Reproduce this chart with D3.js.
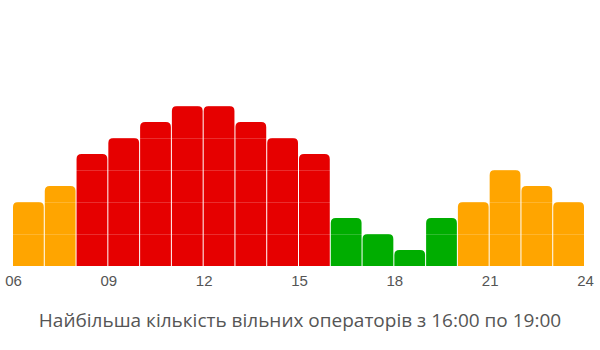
<!DOCTYPE html>
<html>
<head>
<meta charset="utf-8">
<script src="https://cdn.jsdelivr.net/npm/d3@7"></script>
<style>
  body { margin: 0; background: #fff; }
  svg { display: block; font-family: "Open Sans", sans-serif; }
</style>
</head>
<body>
<svg id="chart" width="600" height="350"></svg>
<script>
// hours of the day and free operators per hour
const hours = [6, 7, 8, 9, 10, 11, 12, 13, 14, 15, 16, 17, 18, 19, 20, 21, 22, 23]
const operators = [4, 5, 7, 8, 9, 10, 10, 9, 8, 7, 3, 2, 1, 3, 4, 6, 5, 4]
const levels = ['mid', 'mid', 'high', 'high', 'high', 'high', 'high', 'high', 'high', 'high',
  'low', 'low', 'low', 'low', 'mid', 'mid', 'mid', 'mid']
const tickHours = [6, 9, 12, 15, 18, 21, 24]
const title = 'Найбільша кількість вільних операторів з 16:00 по 19:00'

const svg = d3.select('#chart')
const base = 266

const x = d3.scaleLinear().domain([6, 24]).range([13, 585])
const y = d3.scaleLinear().domain([0, 16]).range([base, 10])
const color = d3.scaleOrdinal()
  .domain(['high', 'mid', 'low'])
  .range(['#e60000', '#ffa500', '#00ad00'])

const data = hours.map((h, i) => ({ hour: h, value: operators[i], level: levels[i] }))

// bar with rounded top corners
function barPath (d) {
  const x0 = x(d.hour)
  const w = x(d.hour + 1) - x0 - 1
  const y0 = y(d.value)
  const r = Math.min(5, w / 2)
  return 'M' + x0 + ',' + base +
    'V' + (y0 + r) +
    'Q' + x0 + ',' + y0 + ' ' + (x0 + r) + ',' + y0 +
    'H' + (x0 + w - r) +
    'Q' + (x0 + w) + ',' + y0 + ' ' + (x0 + w) + ',' + (y0 + r) +
    'V' + base + 'Z'
}

svg.append('g')
  .selectAll('path')
  .data(data)
  .join('path')
  .attr('d', barPath)
  .attr('fill', d => color(d.level))

// faint grid lines across the bars
svg.append('g')
  .selectAll('line')
  .data(d3.range(2, 16, 2))
  .join('line')
  .attr('x1', x(6))
  .attr('x2', x(24))
  .attr('y1', d => Math.round(y(d)) + 0.5)
  .attr('y2', d => Math.round(y(d)) + 0.5)
  .attr('stroke', '#fff')
  .attr('stroke-opacity', 0.18)

const axis = d3.axisBottom(x)
  .tickValues(tickHours)
  .tickFormat(d => d3.format('02d')(d))
  .tickSize(0)
  .tickPadding(9)

const gx = svg.append('g')
  .attr('transform', 'translate(0,' + base + ')')
  .call(axis)
gx.select('.domain').remove()
gx.selectAll('text')
  .attr('fill', '#555')
  .style('font-size', '15px')
  .style('font-family', '"Liberation Sans", Arial, sans-serif')

svg.append('text')
  .attr('x', 300)
  .attr('y', 327)
  .attr('text-anchor', 'middle')
  .attr('fill', '#555')
  .style('font-size', '19px')
  .text(title)
</script>
</body>
</html>
